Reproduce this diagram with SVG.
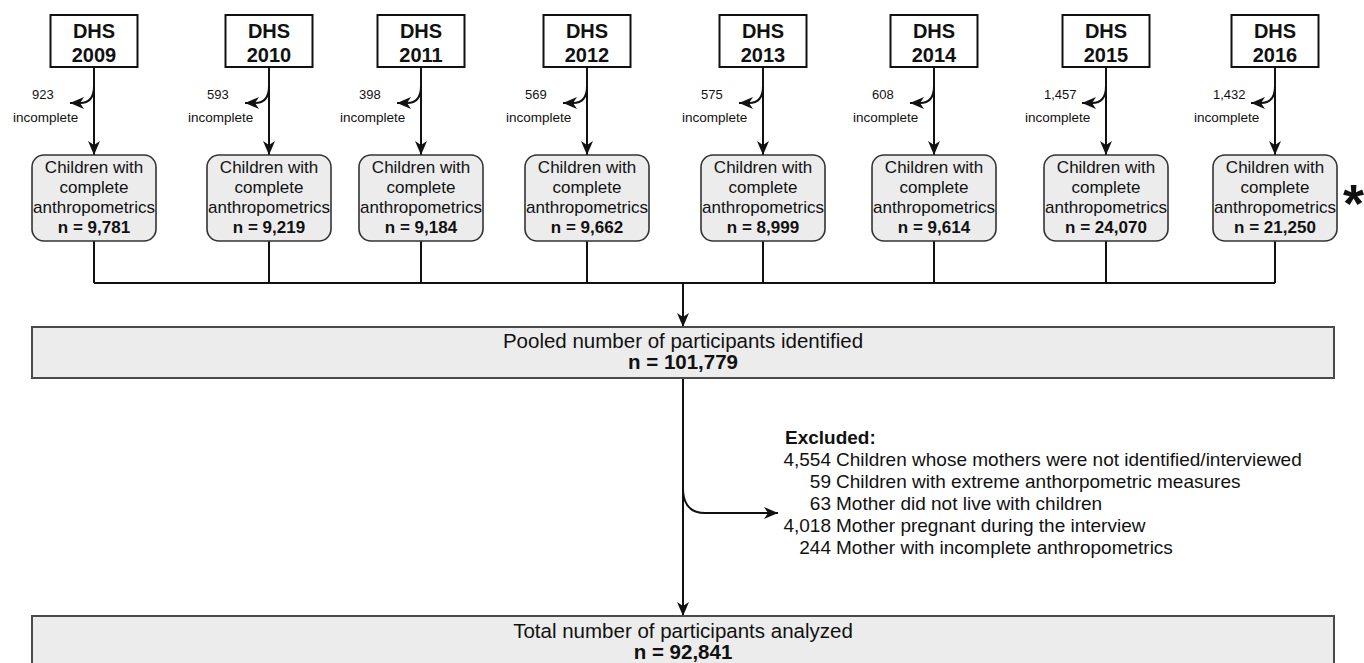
<svg xmlns="http://www.w3.org/2000/svg" width="1364" height="663" viewBox="0 0 1364 663">
<defs>
<style>
text{font-family:"Liberation Sans",Arial,sans-serif;fill:#111}
.dhs{fill:#fff;stroke:#111;stroke-width:2}
.dt{font-size:20px;font-weight:bold;text-anchor:middle}
.cb{fill:#ececec;stroke:#333;stroke-width:1.6}
.ct{font-size:17px;text-anchor:middle}
.b{font-weight:bold}
.num{font-size:13px}
.inc{font-size:13.5px}
.big{fill:#ececec;stroke:#4a4a4a;stroke-width:2}
.bt{font-size:20.5px;text-anchor:middle}
.ex{font-size:19px}
.ln{fill:none;stroke:#111;stroke-width:2}
</style>
<marker id="arr" viewBox="0 0 14 12" refX="14" refY="6" markerWidth="14" markerHeight="12" orient="auto" markerUnits="userSpaceOnUse">
<path d="M0,0 L14,6 L0,12 L4,6 Z" fill="#111"/>
</marker>
</defs>
<g id="connectors">
<path class="ln" d="M94,67 V155" marker-end="url(#arr)"/>
<path class="ln" d="M269,67 V155" marker-end="url(#arr)"/>
<path class="ln" d="M421,67 V155" marker-end="url(#arr)"/>
<path class="ln" d="M587,67 V155" marker-end="url(#arr)"/>
<path class="ln" d="M763,67 V155" marker-end="url(#arr)"/>
<path class="ln" d="M934,67 V155" marker-end="url(#arr)"/>
<path class="ln" d="M1106,67 V155" marker-end="url(#arr)"/>
<path class="ln" d="M1275,67 V155" marker-end="url(#arr)"/>
<path class="ln" d="M94,86 Q94,103 80,103 L70,103" marker-end="url(#arr)"/>
<path class="ln" d="M269,86 Q269,103 255,103 L245,103" marker-end="url(#arr)"/>
<path class="ln" d="M421,86 Q421,103 407,103 L397,103" marker-end="url(#arr)"/>
<path class="ln" d="M587,86 Q587,103 573,103 L563,103" marker-end="url(#arr)"/>
<path class="ln" d="M763,86 Q763,103 749,103 L739,103" marker-end="url(#arr)"/>
<path class="ln" d="M934,86 Q934,103 920,103 L910,103" marker-end="url(#arr)"/>
<path class="ln" d="M1106,86 Q1106,103 1092,103 L1082,103" marker-end="url(#arr)"/>
<path class="ln" d="M1275,86 Q1275,103 1261,103 L1251,103" marker-end="url(#arr)"/>
<path class="ln" d="M94,241 V283 M269,241 V283 M421,241 V283 M587,241 V283 M763,241 V283 M934,241 V283 M1106,241 V283 M1275,241 V283 M94,283 H1275"/>
<path class="ln" d="M683,283 V327" marker-end="url(#arr)"/>
<path class="ln" d="M683,378 V616" marker-end="url(#arr)"/>
<path class="ln" d="M683,488 Q683,513 705,513 L778,513" marker-end="url(#arr)"/>
</g>
<g id="labels-incomplete">
<text class="num" x="32" y="99">923</text><text class="inc" x="13" y="122">incomplete</text>
<text class="num" x="207" y="99">593</text><text class="inc" x="188" y="122">incomplete</text>
<text class="num" x="359" y="99">398</text><text class="inc" x="340" y="122">incomplete</text>
<text class="num" x="525" y="99">569</text><text class="inc" x="506" y="122">incomplete</text>
<text class="num" x="701" y="99">575</text><text class="inc" x="682" y="122">incomplete</text>
<text class="num" x="872" y="99">608</text><text class="inc" x="853" y="122">incomplete</text>
<text class="num" x="1044" y="99">1,457</text><text class="inc" x="1025" y="122">incomplete</text>
<text class="num" x="1213" y="99">1,432</text><text class="inc" x="1194" y="122">incomplete</text>
</g>
<g id="dhs2009"><rect class="dhs" x="50.5" y="15" width="87" height="52"/><text class="dt" x="94" y="37.5">DHS</text><text class="dt" x="94" y="61.5">2009</text></g>
<g id="dhs2010"><rect class="dhs" x="225.5" y="15" width="87" height="52"/><text class="dt" x="269" y="37.5">DHS</text><text class="dt" x="269" y="61.5">2010</text></g>
<g id="dhs2011"><rect class="dhs" x="377.5" y="15" width="87" height="52"/><text class="dt" x="421" y="37.5">DHS</text><text class="dt" x="421" y="61.5">2011</text></g>
<g id="dhs2012"><rect class="dhs" x="543.5" y="15" width="87" height="52"/><text class="dt" x="587" y="37.5">DHS</text><text class="dt" x="587" y="61.5">2012</text></g>
<g id="dhs2013"><rect class="dhs" x="719.5" y="15" width="87" height="52"/><text class="dt" x="763" y="37.5">DHS</text><text class="dt" x="763" y="61.5">2013</text></g>
<g id="dhs2014"><rect class="dhs" x="890.5" y="15" width="87" height="52"/><text class="dt" x="934" y="37.5">DHS</text><text class="dt" x="934" y="61.5">2014</text></g>
<g id="dhs2015"><rect class="dhs" x="1062.5" y="15" width="87" height="52"/><text class="dt" x="1106" y="37.5">DHS</text><text class="dt" x="1106" y="61.5">2015</text></g>
<g id="dhs2016"><rect class="dhs" x="1231.5" y="15" width="87" height="52"/><text class="dt" x="1275" y="37.5">DHS</text><text class="dt" x="1275" y="61.5">2016</text></g>
<g id="c2009"><rect class="cb" x="32" y="155" width="124" height="86" rx="12"/><text class="ct" x="94" y="173">Children with</text><text class="ct" x="94" y="193">complete</text><text class="ct" x="94" y="213">anthropometrics</text><text class="ct b" x="94" y="233">n = 9,781</text></g>
<g id="c2010"><rect class="cb" x="207" y="155" width="124" height="86" rx="12"/><text class="ct" x="269" y="173">Children with</text><text class="ct" x="269" y="193">complete</text><text class="ct" x="269" y="213">anthropometrics</text><text class="ct b" x="269" y="233">n = 9,219</text></g>
<g id="c2011"><rect class="cb" x="359" y="155" width="124" height="86" rx="12"/><text class="ct" x="421" y="173">Children with</text><text class="ct" x="421" y="193">complete</text><text class="ct" x="421" y="213">anthropometrics</text><text class="ct b" x="421" y="233">n = 9,184</text></g>
<g id="c2012"><rect class="cb" x="525" y="155" width="124" height="86" rx="12"/><text class="ct" x="587" y="173">Children with</text><text class="ct" x="587" y="193">complete</text><text class="ct" x="587" y="213">anthropometrics</text><text class="ct b" x="587" y="233">n = 9,662</text></g>
<g id="c2013"><rect class="cb" x="701" y="155" width="124" height="86" rx="12"/><text class="ct" x="763" y="173">Children with</text><text class="ct" x="763" y="193">complete</text><text class="ct" x="763" y="213">anthropometrics</text><text class="ct b" x="763" y="233">n = 8,999</text></g>
<g id="c2014"><rect class="cb" x="872" y="155" width="124" height="86" rx="12"/><text class="ct" x="934" y="173">Children with</text><text class="ct" x="934" y="193">complete</text><text class="ct" x="934" y="213">anthropometrics</text><text class="ct b" x="934" y="233">n = 9,614</text></g>
<g id="c2015"><rect class="cb" x="1044" y="155" width="124" height="86" rx="12"/><text class="ct" x="1106" y="173">Children with</text><text class="ct" x="1106" y="193">complete</text><text class="ct" x="1106" y="213">anthropometrics</text><text class="ct b" x="1106" y="233">n = 24,070</text></g>
<g id="c2016"><rect class="cb" x="1213" y="155" width="124" height="86" rx="12"/><text class="ct" x="1275" y="173">Children with</text><text class="ct" x="1275" y="193">complete</text><text class="ct" x="1275" y="213">anthropometrics</text><text class="ct b" x="1275" y="233">n = 21,250</text></g>
<g id="asterisk"><text x="1343" y="222" style="font-size:54px;font-weight:bold">*</text></g>
<g id="pooled"><rect class="big" x="32" y="327" width="1302" height="51"/><text class="bt" x="683" y="348">Pooled number of participants identified</text><text class="bt b" x="683" y="369">n = 101,779</text></g>
<g id="excluded">
<text class="ex b" x="785" y="444">Excluded:</text>
<text class="ex" y="466"><tspan x="831" text-anchor="end">4,554</tspan><tspan x="836">Children whose mothers were not identified/interviewed</tspan></text>
<text class="ex" y="488"><tspan x="831" text-anchor="end">59</tspan><tspan x="836">Children with extreme anthorpometric measures</tspan></text>
<text class="ex" y="510"><tspan x="831" text-anchor="end">63</tspan><tspan x="836">Mother did not live with children</tspan></text>
<text class="ex" y="532"><tspan x="831" text-anchor="end">4,018</tspan><tspan x="836">Mother pregnant during the interview</tspan></text>
<text class="ex" y="554"><tspan x="831" text-anchor="end">244</tspan><tspan x="836">Mother with incomplete anthropometrics</tspan></text>
</g>
<g id="total"><rect class="big" x="32" y="616" width="1302" height="60"/><text class="bt" x="683" y="638">Total number of participants analyzed</text><text class="bt b" x="683" y="659">n = 92,841</text></g>
</svg>
